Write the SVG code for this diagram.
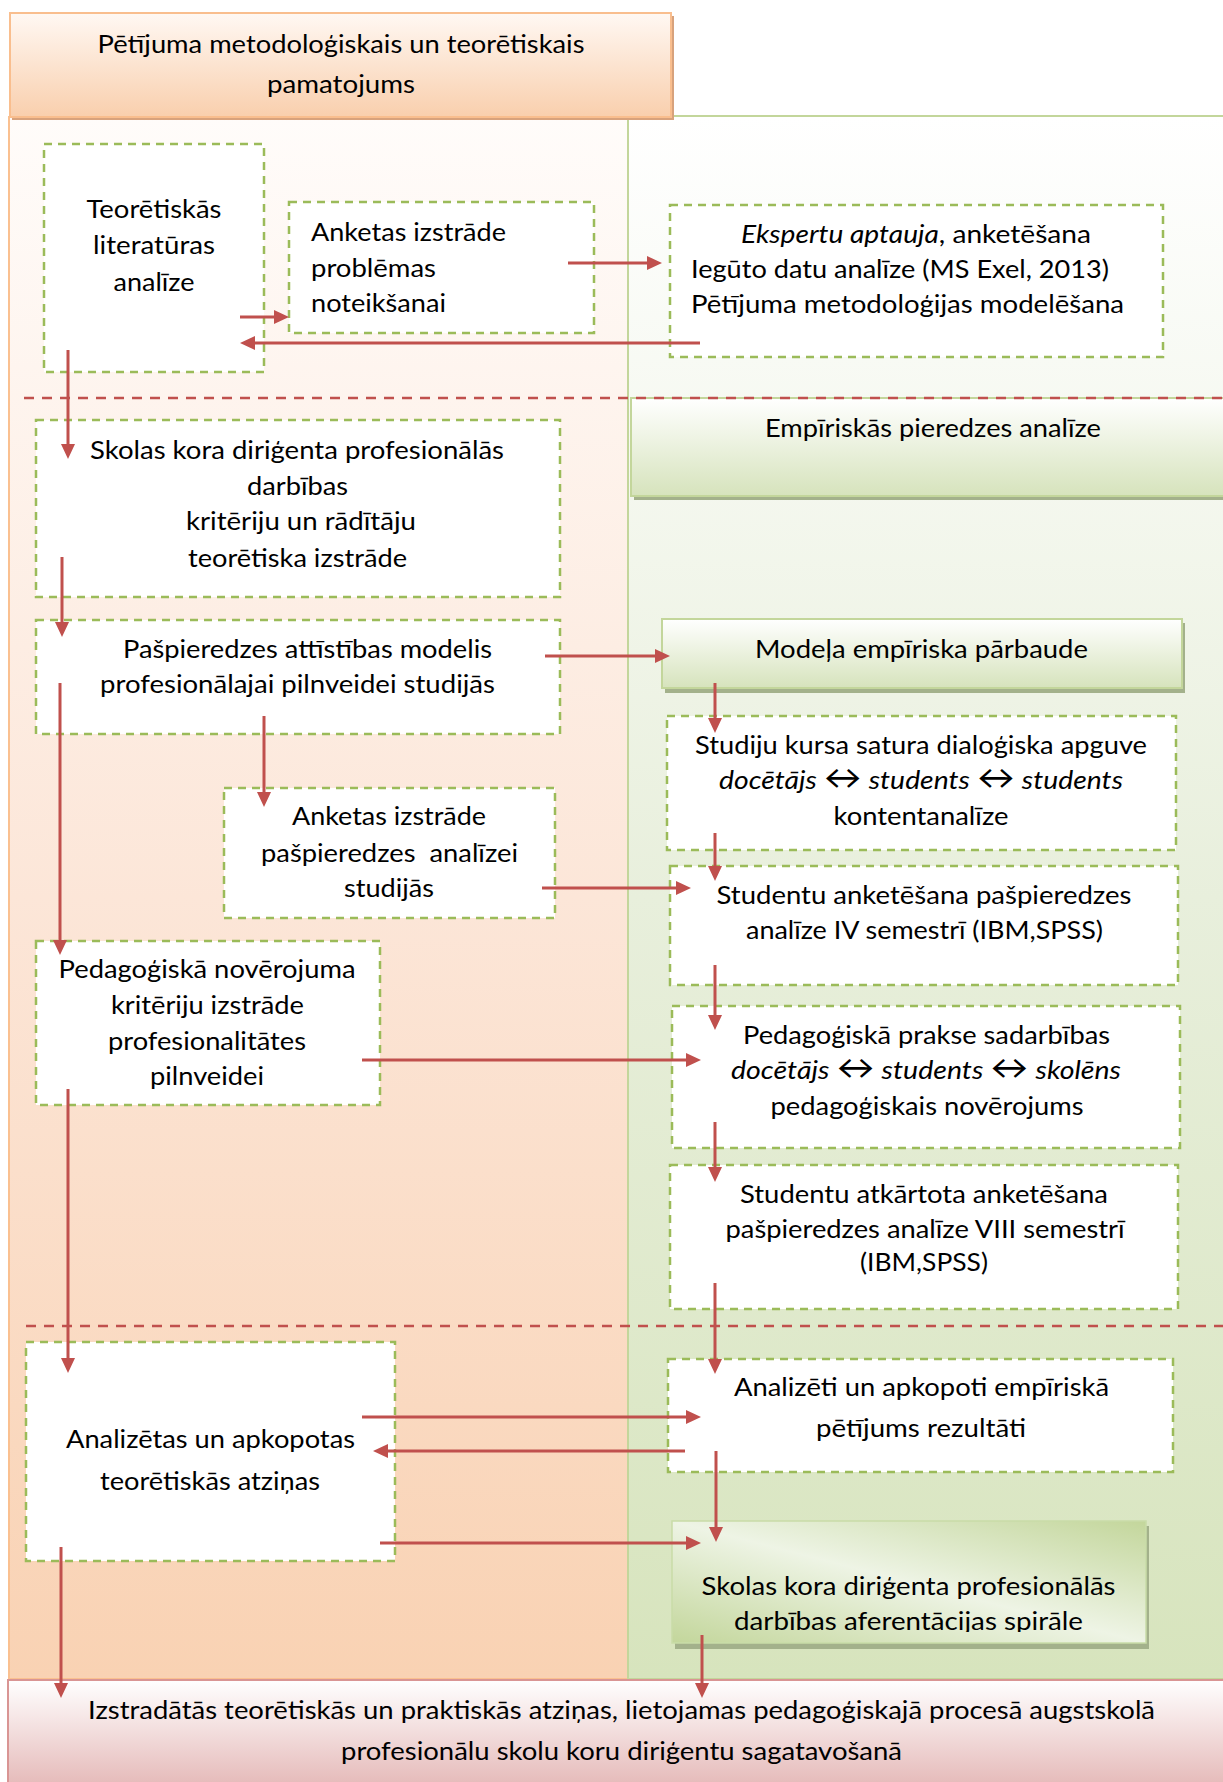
<svg xmlns="http://www.w3.org/2000/svg" width="1223" height="1782" viewBox="0 0 1223 1782">
<defs>
<style>
text{font-family:Lato,"Open Sans","Liberation Sans",sans-serif;font-size:25px;fill:#000}
.it{font-style:italic}
.ar{font-size:33px}
.box{fill:#fff;stroke:#9BBB59;stroke-width:2.5;stroke-dasharray:8 6}
.gbox{fill:url(#gGreen);stroke:#C3D69B;stroke-width:2}
.shadow{fill:#A3B18B}
.cn{fill:none;stroke:#C0504D;stroke-width:3;marker-end:url(#arr)}
.div{fill:none;stroke:#C0504D;stroke-width:2.5;stroke-dasharray:10 8}
</style>
<marker id="arr" markerUnits="userSpaceOnUse" markerWidth="16" markerHeight="16" refX="5" refY="7" orient="auto">
<path d="M0,0 L15,7 L0,14 z" fill="#C0504D"/>
</marker>
<linearGradient id="gHeader" x1="0" y1="0" x2="0" y2="1">
<stop offset="0" stop-color="#FFF8F3"/>
<stop offset="1" stop-color="#F9CFAD"/>
</linearGradient>
<linearGradient id="gLeft" gradientUnits="userSpaceOnUse" x1="0" y1="117" x2="0" y2="1678">
<stop offset="0" stop-color="#FFFCFA"/>
<stop offset="0.5" stop-color="#FCE6D8"/>
<stop offset="1" stop-color="#F9D2B3"/>
</linearGradient>
<linearGradient id="gRight" gradientUnits="userSpaceOnUse" x1="0" y1="116" x2="0" y2="1678">
<stop offset="0" stop-color="#FFFFFF"/>
<stop offset="0.5" stop-color="#E8EFDC"/>
<stop offset="1" stop-color="#D7E4BD"/>
</linearGradient>
<linearGradient id="gGreen" x1="0" y1="0" x2="0" y2="1">
<stop offset="0" stop-color="#FFFFFF"/>
<stop offset="1" stop-color="#D6E3BC"/>
</linearGradient>
<linearGradient id="gSpiral" x1="1" y1="0" x2="0" y2="1">
<stop offset="0" stop-color="#C3D69B"/>
<stop offset="0.5" stop-color="#EEF4E5"/>
<stop offset="1" stop-color="#C3D69B"/>
</linearGradient>
<linearGradient id="gBottom" x1="0" y1="0" x2="0" y2="1">
<stop offset="0" stop-color="#FFFFFF"/>
<stop offset="1" stop-color="#E4B7B6"/>
</linearGradient>
<clipPath id="clipSpiral"><rect x="672" y="1521" width="474" height="111"/></clipPath>
</defs>

<g id="panels">
<rect x="9" y="117" width="619" height="1562" fill="url(#gLeft)" stroke="#FAC090" stroke-width="2"/>
<rect x="628" y="116" width="600" height="1563" fill="url(#gRight)" stroke="#C3D69B" stroke-width="2"/>
</g>

<g id="header">
<rect x="12" y="16" width="662" height="104" fill="#D8A27C"/>
<rect x="10" y="13" width="661" height="104" fill="url(#gHeader)" stroke="#F9BE8E" stroke-width="2"/>
<text x="341" y="53" text-anchor="middle" textLength="487" lengthAdjust="spacingAndGlyphs">Pētījuma metodoloģiskais un teorētiskais</text>
<text x="341" y="93" text-anchor="middle" textLength="148" lengthAdjust="spacingAndGlyphs">pamatojums</text>
</g>

<g id="bottom">
<rect x="8" y="1680" width="1222" height="110" fill="url(#gBottom)" stroke="#D99594" stroke-width="2"/>
<text x="621.5" y="1719" text-anchor="middle" textLength="1067" lengthAdjust="spacingAndGlyphs">Izstradātās teorētiskās un praktiskās atziņas, lietojamas pedagoģiskajā procesā augstskolā</text>
<text x="621.5" y="1760" text-anchor="middle" textLength="561" lengthAdjust="spacingAndGlyphs">profesionālu skolu koru diriģentu sagatavošanā</text>
</g>

<g id="empiriskas">
<rect class="shadow" x="634" y="402" width="600" height="98"/>
<rect class="gbox" x="631" y="398" width="600" height="98"/>
<text x="933" y="437" text-anchor="middle" textLength="336" lengthAdjust="spacingAndGlyphs">Empīriskās pieredzes analīze</text>
</g>

<g id="dividers">
<line class="div" x1="24" y1="398" x2="1223" y2="398"/>
<line class="div" x1="26" y1="1326" x2="1223" y2="1326"/>
</g>

<g id="n1">
<rect class="box" x="44" y="144" width="220" height="228"/>
<text x="154" y="218" text-anchor="middle" textLength="135" lengthAdjust="spacingAndGlyphs">Teorētiskās</text>
<text x="154" y="254" text-anchor="middle" textLength="122" lengthAdjust="spacingAndGlyphs">literatūras</text>
<text x="154" y="291" text-anchor="middle" textLength="81" lengthAdjust="spacingAndGlyphs">analīze</text>
</g>

<g id="n2">
<rect class="box" x="289" y="202" width="305" height="131"/>
<text x="311" y="241" textLength="195" lengthAdjust="spacingAndGlyphs">Anketas izstrāde</text>
<text x="311" y="277" textLength="125" lengthAdjust="spacingAndGlyphs">problēmas</text>
<text x="311" y="312" textLength="135" lengthAdjust="spacingAndGlyphs">noteikšanai</text>
</g>

<g id="n3">
<rect class="box" x="670" y="205" width="493" height="152"/>
<text x="916" y="243" text-anchor="middle" textLength="350" lengthAdjust="spacingAndGlyphs"><tspan class="it">Ekspertu aptauja</tspan>, anketēšana</text>
<text x="691" y="278" textLength="418" lengthAdjust="spacingAndGlyphs">Iegūto datu analīze (MS Exel, 2013)</text>
<text x="691" y="313" textLength="433" lengthAdjust="spacingAndGlyphs">Pētījuma metodoloģijas modelēšana</text>
</g>

<g id="n4">
<rect class="box" x="36" y="420" width="524" height="177"/>
<text x="297" y="459" text-anchor="middle" textLength="414" lengthAdjust="spacingAndGlyphs">Skolas kora diriģenta profesionālās</text>
<text x="297.5" y="495" text-anchor="middle" textLength="101" lengthAdjust="spacingAndGlyphs">darbības</text>
<text x="301" y="530" text-anchor="middle" textLength="230" lengthAdjust="spacingAndGlyphs">kritēriju un rādītāju</text>
<text x="297.5" y="567" text-anchor="middle" textLength="219" lengthAdjust="spacingAndGlyphs">teorētiska izstrāde</text>
</g>

<g id="n5">
<rect class="box" x="36" y="620" width="524" height="114"/>
<text x="307.5" y="658" text-anchor="middle" textLength="369" lengthAdjust="spacingAndGlyphs">Pašpieredzes attīstības modelis</text>
<text x="297.5" y="693" text-anchor="middle" textLength="395" lengthAdjust="spacingAndGlyphs">profesionālajai pilnveidei studijās</text>
</g>

<g id="n6">
<rect class="box" x="224" y="788" width="331" height="130"/>
<text x="389" y="825" text-anchor="middle" textLength="194" lengthAdjust="spacingAndGlyphs">Anketas izstrāde</text>
<text x="389.5" y="862" text-anchor="middle" textLength="257" lengthAdjust="spacingAndGlyphs" xml:space="preserve">pašpieredzes  analīzei</text>
<text x="389" y="897" text-anchor="middle" textLength="90" lengthAdjust="spacingAndGlyphs">studijās</text>
</g>

<g id="n7">
<rect class="box" x="36" y="941" width="344" height="164"/>
<text x="207" y="978" text-anchor="middle" textLength="297" lengthAdjust="spacingAndGlyphs">Pedagoģiskā novērojuma</text>
<text x="207.5" y="1014" text-anchor="middle" textLength="193" lengthAdjust="spacingAndGlyphs">kritēriju izstrāde</text>
<text x="207" y="1050" text-anchor="middle" textLength="198" lengthAdjust="spacingAndGlyphs">profesionalitātes</text>
<text x="207" y="1085" text-anchor="middle" textLength="114" lengthAdjust="spacingAndGlyphs">pilnveidei</text>
</g>

<g id="n8">
<rect class="box" x="26" y="1342" width="369" height="219"/>
<text x="210.5" y="1448" text-anchor="middle" textLength="289" lengthAdjust="spacingAndGlyphs">Analizētas un apkopotas</text>
<text x="210" y="1490" text-anchor="middle" textLength="220" lengthAdjust="spacingAndGlyphs">teorētiskās atziņas</text>
</g>

<g id="r1">
<rect class="shadow" x="665" y="623" width="520" height="70"/>
<rect class="gbox" x="662" y="619" width="520" height="69"/>
<text x="921.5" y="658" text-anchor="middle" textLength="333" lengthAdjust="spacingAndGlyphs">Modeļa empīriska pārbaude</text>
</g>

<g id="r2">
<rect class="box" x="667" y="716" width="509" height="134"/>
<text x="921" y="754" text-anchor="middle" textLength="452" lengthAdjust="spacingAndGlyphs">Studiju kursa satura dialoģiska apguve</text>
<text x="921" y="789" text-anchor="middle" textLength="404" lengthAdjust="spacingAndGlyphs"><tspan class="it">docētājs</tspan> <tspan class="ar">↔</tspan> <tspan class="it">students</tspan> <tspan class="ar">↔</tspan> <tspan class="it">students</tspan></text>
<text x="921" y="825" text-anchor="middle" textLength="175" lengthAdjust="spacingAndGlyphs">kontentanalīze</text>
</g>

<g id="r3">
<rect class="box" x="670" y="866" width="508" height="119"/>
<text x="924" y="904" text-anchor="middle" textLength="415" lengthAdjust="spacingAndGlyphs">Studentu anketēšana pašpieredzes</text>
<text x="924.5" y="939" text-anchor="middle" textLength="357" lengthAdjust="spacingAndGlyphs">analīze IV semestrī (IBM,SPSS)</text>
</g>

<g id="r4">
<rect class="box" x="672" y="1006" width="508" height="142"/>
<text x="926.5" y="1044" text-anchor="middle" textLength="367" lengthAdjust="spacingAndGlyphs">Pedagoģiskā prakse sadarbības</text>
<text x="926" y="1079" text-anchor="middle" textLength="390" lengthAdjust="spacingAndGlyphs"><tspan class="it">docētājs</tspan> <tspan class="ar">↔</tspan> <tspan class="it">students</tspan> <tspan class="ar">↔</tspan> <tspan class="it">skolēns</tspan></text>
<text x="927" y="1115" text-anchor="middle" textLength="313" lengthAdjust="spacingAndGlyphs">pedagoģiskais novērojums</text>
</g>

<g id="r5">
<rect class="box" x="670" y="1165" width="508" height="144"/>
<text x="924" y="1203" text-anchor="middle" textLength="368" lengthAdjust="spacingAndGlyphs">Studentu atkārtota anketēšana</text>
<text x="925" y="1238" text-anchor="middle" textLength="399" lengthAdjust="spacingAndGlyphs">pašpieredzes analīze VIII semestrī</text>
<text x="924" y="1271" text-anchor="middle" textLength="128" lengthAdjust="spacingAndGlyphs">(IBM,SPSS)</text>
</g>

<g id="r6">
<rect class="box" x="668" y="1359" width="505" height="113"/>
<text x="921.5" y="1396" text-anchor="middle" textLength="375" lengthAdjust="spacingAndGlyphs">Analizēti un apkopoti empīriskā</text>
<text x="921" y="1437" text-anchor="middle" textLength="210" lengthAdjust="spacingAndGlyphs">pētījums rezultāti</text>
</g>

<g id="r7">
<rect class="shadow" x="675" y="1526" width="474" height="123"/>
<rect x="672" y="1521" width="474" height="122" fill="url(#gSpiral)" stroke="#C9DCA8" stroke-width="1.5"/>
<text x="908.5" y="1595" text-anchor="middle" textLength="414" lengthAdjust="spacingAndGlyphs">Skolas kora diriģenta profesionālās</text>
<text x="908.5" y="1630" text-anchor="middle" textLength="349" lengthAdjust="spacingAndGlyphs" clip-path="url(#clipSpiral)">darbības aferentācijas spirāle</text>
</g>

<g id="connectors">
<line class="cn" x1="240" y1="317" x2="279" y2="317"/>
<line class="cn" x1="568" y1="263" x2="652" y2="263"/>
<line class="cn" x1="700" y1="343" x2="250" y2="343"/>
<line class="cn" x1="68" y1="350" x2="68" y2="449"/>
<line class="cn" x1="62" y1="557" x2="62" y2="627"/>
<line class="cn" x1="545" y1="656" x2="660" y2="656"/>
<line class="cn" x1="264" y1="716" x2="264" y2="797"/>
<line class="cn" x1="60" y1="683" x2="60" y2="945"/>
<line class="cn" x1="542" y1="888" x2="681" y2="888"/>
<line class="cn" x1="362" y1="1060" x2="691" y2="1060"/>
<line class="cn" x1="68" y1="1089" x2="68" y2="1363"/>
<line class="cn" x1="715" y1="683" x2="715" y2="723"/>
<line class="cn" x1="715" y1="833" x2="715" y2="871"/>
<line class="cn" x1="715" y1="965" x2="715" y2="1020"/>
<line class="cn" x1="715" y1="1122" x2="715" y2="1172"/>
<line class="cn" x1="715" y1="1283" x2="715" y2="1364"/>
<line class="cn" x1="362" y1="1417" x2="691" y2="1417"/>
<line class="cn" x1="685" y1="1451" x2="383" y2="1451"/>
<line class="cn" x1="380" y1="1543" x2="691" y2="1543"/>
<line class="cn" x1="716" y1="1451" x2="716" y2="1532"/>
<line class="cn" x1="702" y1="1635" x2="702" y2="1688"/>
<line class="cn" x1="61" y1="1547" x2="61" y2="1688"/>
</g>
</svg>
